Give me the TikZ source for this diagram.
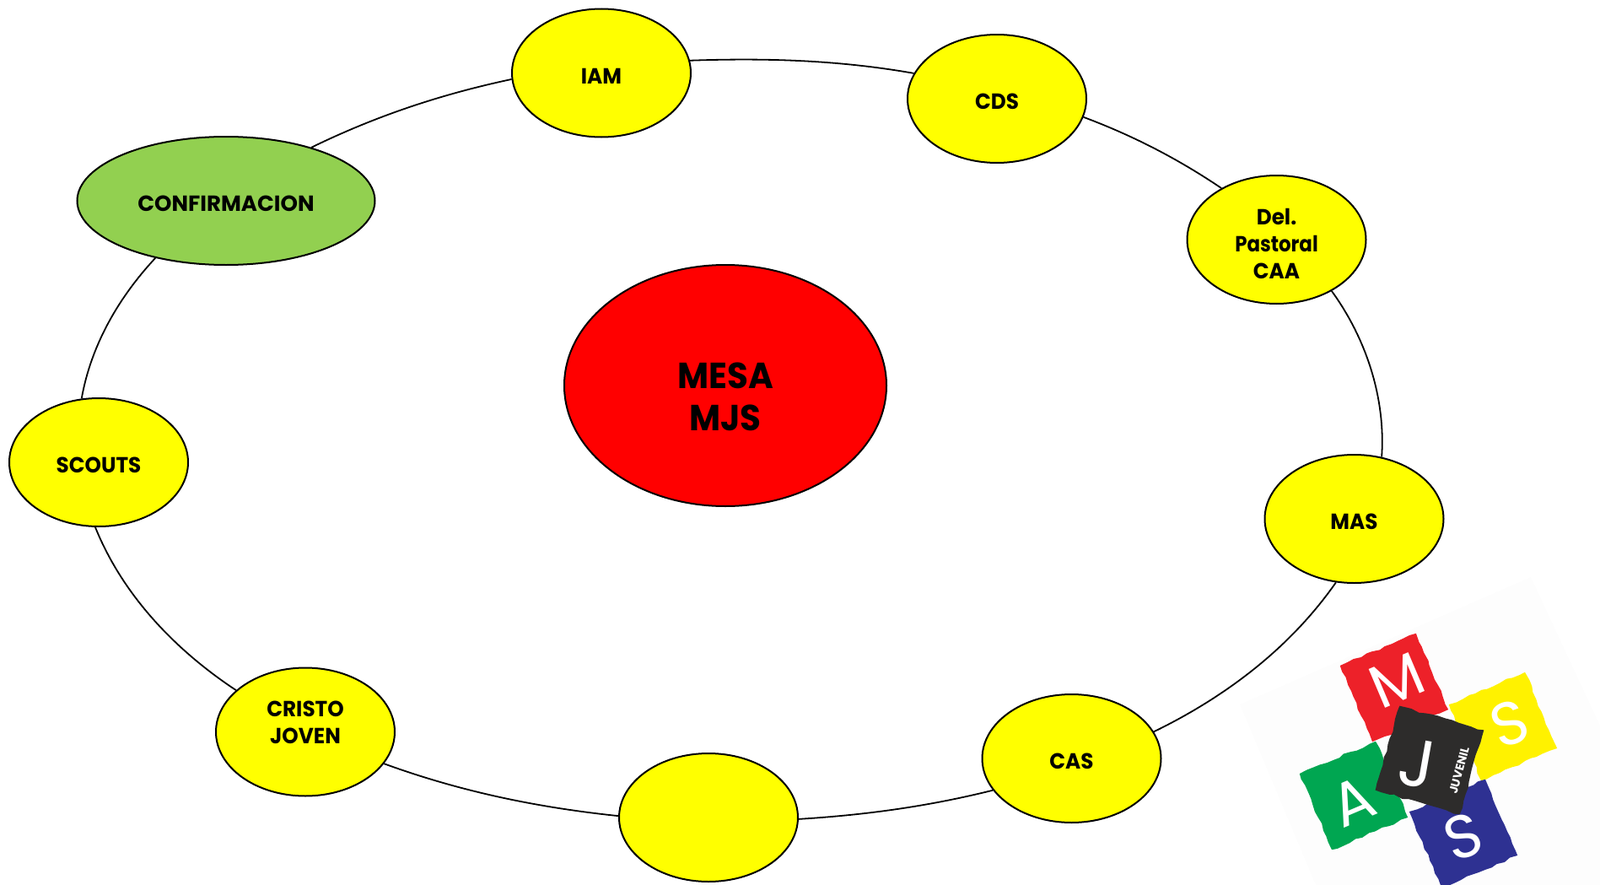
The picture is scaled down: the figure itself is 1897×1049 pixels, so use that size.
\documentclass[tikz,border=0pt]{standalone}
\usepackage{fontspec}
\setmainfont{Poppins}
\usetikzlibrary{shapes.geometric,decorations.pathmorphing}
\definecolor{grupo}{HTML}{FFFF00}
\definecolor{confirma}{HTML}{92D050}
\definecolor{tilered}{HTML}{ED2129}
\definecolor{tileyellow}{HTML}{FFF200}
\definecolor{tilegreen}{HTML}{00A651}
\definecolor{tileblue}{HTML}{2E3192}
\definecolor{tileblack}{HTML}{2D2C2B}
\definecolor{logoback}{HTML}{FDFDFD}

\begin{document}
\begin{tikzpicture}[
    x=0.5pt, y=0.5pt,
    group/.style  = {ellipse, draw, line width=1pt, fill=grupo, minimum width=106pt, minimum height=76pt, inner sep=0pt, align=center, text height=13pt, font=\bfseries\fontsize{13}{16}\selectfont\addfontfeature{FakeStretch=0.95}},
    mesa/.style   = {group, fill=red, minimum width=191pt, minimum height=143pt, text height=53.5pt, font=\bfseries\fontsize{21.5}{25}\selectfont\addfontfeature{FakeStretch=0.94}},
    ring/.style   = {line width=0.9pt, looseness=0.87},
    tile/.style   = {rectangle, minimum size=49pt, inner sep=0pt, decorate, decoration={random steps, segment length=4pt, amplitude=0.7pt}},
    letter/.style = {text=white, inner sep=0pt, font=\fontsize{36}{36}\selectfont},
]
\useasboundingbox (0,0) rectangle (1897,-1049);
\fill [logoback] (1470,-835) -- (1815,-684) -- (1897,-860) -- (1897,-1049) -- (1560,-1049) -- cycle;

\node [mesa] (mesa) at (860,-457) {MESA\\MJS};
\node [group] (iam) at (713,-86.5) {IAM};
\node [group] (cds) at (1182,-117) {CDS};
\node [group, text height=46.5pt] (del) at (1513.5,-284) {Del.\\{\addfontfeature{FakeStretch=0.88}Pastoral}\\CAA};
\node [group] (mas) at (1605.5,-615) {MAS};
\node [group] (cas) at (1270.5,-899) {CAS};
\node [group] (blank) at (840,-969) {};
\node [group, text height=, text depth=11.5pt] (cristo) at (362,-867.5) {CRISTO\\JOVEN};
\node [group] (scouts) at (117,-548) {SCOUTS};
\node [group, fill=confirma, minimum width=176.5pt, font=\bfseries\fontsize{13}{16}\selectfont] (conf) at (268,-238) {CONFIRMACION};

\draw [ring] (conf.32) to[out=26, in=192] (iam.184);
\draw [ring] (iam.8.8) to[out=2, in=170] (cds.163);
\draw [ring] (cds.-12.7) to[out=-20.5, in=146] (del.137.5);
\draw [ring] (del.-43.4) to[out=-54, in=86] (mas.66);
\draw [ring] (mas.254.7) to[out=235, in=26] (cas.18.9);
\draw [ring] (cas.202.2) to[out=194, in=3.5] (blank.-1.4);
\draw [ring] (blank.179.5) to[out=174, in=-20] (cristo.-22.5);
\draw [ring] (cristo.149) to[out=146.5, in=-68] (scouts.-93.4);
\draw [ring] (scouts.105) to[out=80, in=-133] (conf.219.8);

% logo
\node [tile, fill=tilered, rotate=23] (tilem) at (1653,-815) {};
\node [tile, fill=tileyellow, rotate=23] (tiles) at (1782,-861) {};
\node [tile, fill=tilegreen, rotate=23] (tilea) at (1605,-943) {};
\node [tile, fill=tileblue, rotate=23] (tileb) at (1735,-988) {};
\node [tile, fill=tileblack, rotate=-16, minimum size=52pt] (tilej) at (1695,-901) {};
\node [letter, rotate=23] (letm) at (1656,-806) {M};
\node [letter, rotate=20] (lets) at (1790,-858) {S};
\node [letter, rotate=23] (leta) at (1604,-950) {A};
\node [letter, rotate=20] (letb) at (1735,-992) {S};
\node [letter, rotate=-10, font=\fontsize{40}{40}\selectfont] (letj) at (1680,-905) {J};
\node [letter, rotate=75, font=\bfseries\fontsize{7}{7}\selectfont] (juvenil) at (1730,-913) {JUVENIL};
\end{tikzpicture}
\end{document}
